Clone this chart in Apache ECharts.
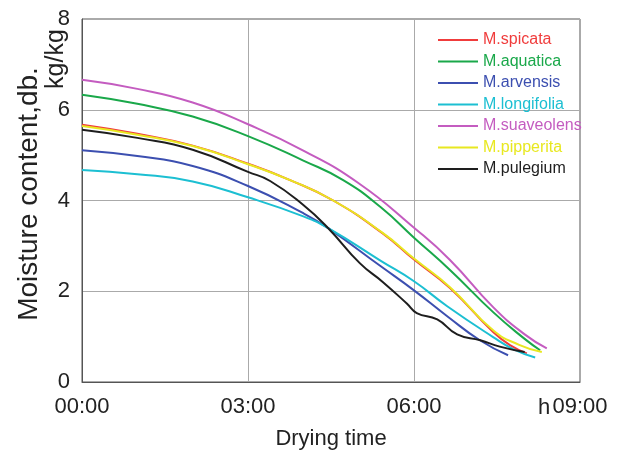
<!DOCTYPE html>
<html>
<head>
<meta charset="utf-8">
<script src="https://cdn.jsdelivr.net/npm/echarts@6/dist/echarts.min.js"></script>
<style>
  html, body { margin: 0; padding: 0; background: #fff; }
  #chart { width: 622px; height: 459px; }
</style>
</head>
<body>
<div id="chart"></div>
<script>
// Drying curves: [drying time in hours, moisture content kg/kg d.b.]
const spicata = [[0,5.67],[1,5.47],[2,5.21],[3,4.81],[3.76,4.45],[4.54,4.0],[5.44,3.27],[6.0,2.7],[6.65,2.07],[7.43,1.1],[7.75,0.8],[8.04,0.63]];
const aquatica = [[0,6.33],[1,6.13],[2,5.85],[3,5.42],[4,4.88],[4.72,4.45],[5.4,3.85],[6.0,3.18],[6.65,2.47],[7.43,1.54],[8.0,0.95],[8.28,0.7]];
const arvensis = [[0,5.11],[1,4.98],[2,4.76],[3,4.32],[4,3.72],[4.45,3.39],[5.4,2.55],[6.0,2.02],[6.6,1.45],[7.19,0.92],[7.7,0.59]];
const longifolia = [[0,4.67],[1,4.58],[2,4.42],[3,4.07],[4,3.65],[4.45,3.39],[5.4,2.67],[6.0,2.22],[6.6,1.67],[7.43,0.99],[7.8,0.72],[8.19,0.54]];
const suaveolens = [[0,6.66],[1,6.46],[2,6.16],[3,5.68],[4,5.1],[5,4.38],[6.0,3.4],[6.65,2.69],[7.43,1.65],[8.0,1.05],[8.4,0.74]];
const pipperita = [[0,5.64],[1,5.45],[2,5.2],[3,4.8],[3.76,4.45],[4.54,4.0],[5.44,3.28],[6.0,2.72],[6.65,2.09],[7.43,1.14],[7.9,0.82],[8.31,0.66]];
const pulegium = [[0,5.56],[1,5.38],[2,5.12],[3,4.63],[3.4,4.43],[4.0,3.9],[4.45,3.39],[5.02,2.62],[5.44,2.2],[5.87,1.73],[6.05,1.52],[6.42,1.38],[6.78,1.05],[7.2,0.92],[7.55,0.78],[8.0,0.66]];

const speciesNames = ['M.spicata','M.aquatica','M.arvensis','M.longifolia','M.suaveolens','M.pipperita','M.pulegium'];
const speciesData = [spicata, aquatica, arvensis, longifolia, suaveolens, pipperita, pulegium];
const speciesColors = ['#f03c3c','#1aa84a','#3c4fb0','#1cbfd2','#c45cc0','#e8e820','#1e1e1e'];
const timeLabels = ['00:00','03:00','06:00','09:00'];

const FONT = '"Liberation Sans", Arial, sans-serif';

const chart = echarts.init(document.getElementById('chart'), null, { renderer: 'canvas' });

chart.setOption({
  animation: false,
  backgroundColor: '#fff',
  grid: {
    left: 82, top: 19, right: 42, bottom: 77,
    show: true, borderColor: '#555', borderWidth: 1
  },
  legend: {
    orient: 'vertical',
    left: 433, top: 27,
    itemWidth: 40, itemHeight: 14, itemGap: 5.5,
    icon: 'path://M0,0L40,0L40,2L0,2Z',
    textStyle: { fontFamily: FONT, fontSize: 16 },
    data: speciesNames.map((n, i) => ({ name: n, textStyle: { color: speciesColors[i] } }))
  },
  xAxis: {
    type: 'value', min: 0, max: 9, interval: 3,
    name: 'Drying time', nameLocation: 'middle', nameGap: 46,
    nameTextStyle: { fontFamily: FONT, fontSize: 22, color: '#222' },
    axisLine: { show: true, lineStyle: { color: '#555', width: 1 } },
    axisTick: { show: false },
    axisLabel: {
      margin: 14, fontFamily: FONT, fontSize: 22, color: '#222',
      formatter: v => timeLabels[Math.round(v / 3)]
    },
    splitLine: { show: true, lineStyle: { color: '#aaa', width: 1 } }
  },
  yAxis: {
    type: 'value', min: 0, max: 8, interval: 2,
    axisLine: { show: true, lineStyle: { color: '#555', width: 1 } },
    axisTick: { show: false },
    axisLabel: { margin: 12, fontFamily: FONT, fontSize: 22, color: '#222' },
    splitLine: { show: true, lineStyle: { color: '#aaa', width: 1 } }
  },
  graphic: [
    {
      type: 'text', x: 29, y: 194, rotation: Math.PI / 2,
      style: { text: 'Moisture content,db.', fontFamily: FONT, fontSize: 28, fill: '#222', align: 'center', verticalAlign: 'middle' }
    },
    {
      type: 'text', x: 56, y: 59, rotation: Math.PI / 2,
      style: { text: 'kg/kg', fontFamily: FONT, fontSize: 25, fill: '#222', align: 'center', verticalAlign: 'middle' }
    },
    {
      type: 'text', x: 544, y: 408,
      style: { text: 'h', fontFamily: FONT, fontSize: 22, fill: '#222', align: 'center', verticalAlign: 'middle' }
    }
  ],
  series: speciesNames.map((n, i) => ({
    name: n,
    type: 'line',
    data: speciesData[i],
    smooth: 0.5,
    symbol: 'none',
    lineStyle: { color: speciesColors[i], width: 2 },
    itemStyle: { color: speciesColors[i] }
  }))
});
</script>
</body>
</html>
